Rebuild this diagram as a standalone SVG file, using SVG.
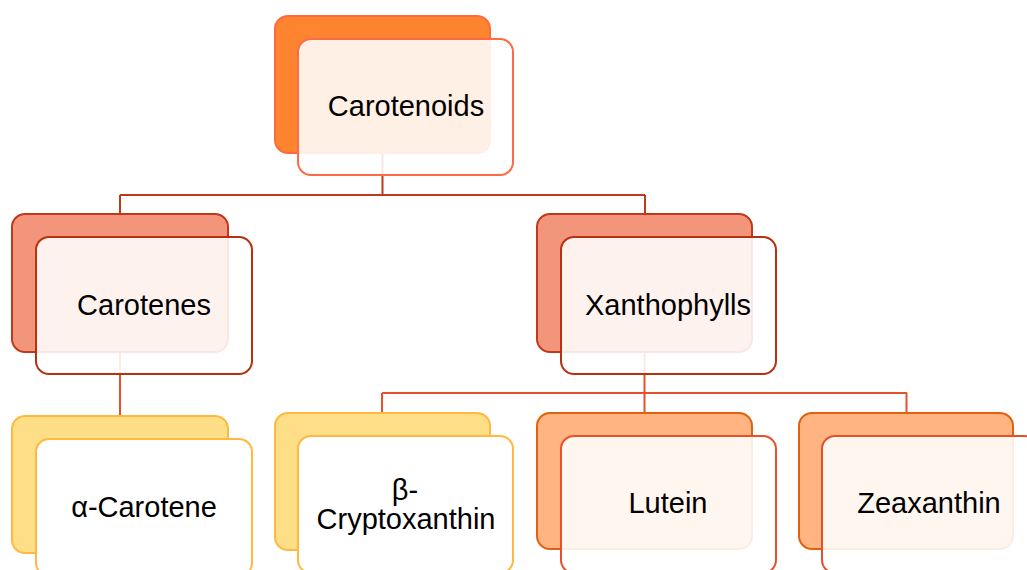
<svg xmlns="http://www.w3.org/2000/svg" width="1027" height="570" viewBox="0 0 1027 570">
<style>
  rect { stroke-width: 2; }
  .front { fill: #ffffff; fill-opacity: 0.88; }
  .t { font-family: "Liberation Sans", Arial, sans-serif; font-size: 29px; fill: #000000; text-anchor: middle; }
  .c1 { fill: none; stroke: #BE3A1A; stroke-width: 2; }
  .c2 { fill: none; stroke: #E8502A; stroke-width: 2; }
  .root-b { fill: #FF8430; stroke: #FF6A3D; }
  .root-f { stroke: #FF6A45; }
  .mid-b { fill: #F3957A; stroke: #C0391B; }
  .mid-f { stroke: #B8300F; }
  .yel-b { fill: #FFDE88; stroke: #FFB940; }
  .yel-f { stroke: #FFB940; fill: #ffffff; }
  .org-b { fill: #FFB482; stroke: #E0620E; }
  .org-f { stroke: #E8502A; }
</style>
<g id="connectors">
  <path class="c1" d="M382.5 153 V195 M120 195 H645 M120 195 V214 M645 195 V214"/>
  <path class="c2" d="M120 352 V416"/>
  <path class="c2" d="M644.5 352 V393 M382 393 H907 M382 393 V413 M644.5 393 V413 M906.5 393 V413"/>
</g>
<g id="carotenoids">
  <rect class="root-b" x="275" y="16" width="215" height="137" rx="13"/>
  <rect class="front root-f" x="298" y="39" width="215" height="136" rx="13"/>
  <text class="t" x="406" y="116">Carotenoids</text>
</g>
<g id="carotenes">
  <rect class="mid-b" x="12" y="214" width="216" height="138" rx="13"/>
  <rect class="front mid-f" x="36" y="237" width="216" height="137" rx="13"/>
  <text class="t" x="144" y="315">Carotenes</text>
</g>
<g id="xanthophylls">
  <rect class="mid-b" x="537" y="214" width="215" height="138" rx="13"/>
  <rect class="front mid-f" x="561" y="237" width="215" height="137" rx="13"/>
  <text class="t" x="668" y="315">Xanthophylls</text>
</g>
<g id="alpha-carotene">
  <rect class="yel-b" x="12" y="416" width="216" height="137" rx="13"/>
  <rect class="yel-f" x="36" y="439" width="216" height="137" rx="13"/>
  <text class="t" x="144" y="517">α-Carotene</text>
</g>
<g id="beta-cryptoxanthin">
  <rect class="yel-b" x="275" y="413" width="215" height="137" rx="13"/>
  <rect class="yel-f" x="298" y="436" width="215" height="137" rx="13"/>
  <text class="t" x="405" y="500">β-</text>
  <text class="t" x="406" y="529">Cryptoxanthin</text>
</g>
<g id="lutein">
  <rect class="org-b" x="537" y="413" width="215" height="136" rx="13"/>
  <rect class="front org-f" x="561" y="436" width="215" height="137" rx="13"/>
  <text class="t" x="668" y="513">Lutein</text>
</g>
<g id="zeaxanthin">
  <rect class="org-b" x="799" y="413" width="214" height="136" rx="13"/>
  <rect class="front org-f" x="822" y="436" width="215" height="137" rx="13"/>
  <text class="t" x="929" y="513">Zeaxanthin</text>
</g>
</svg>
